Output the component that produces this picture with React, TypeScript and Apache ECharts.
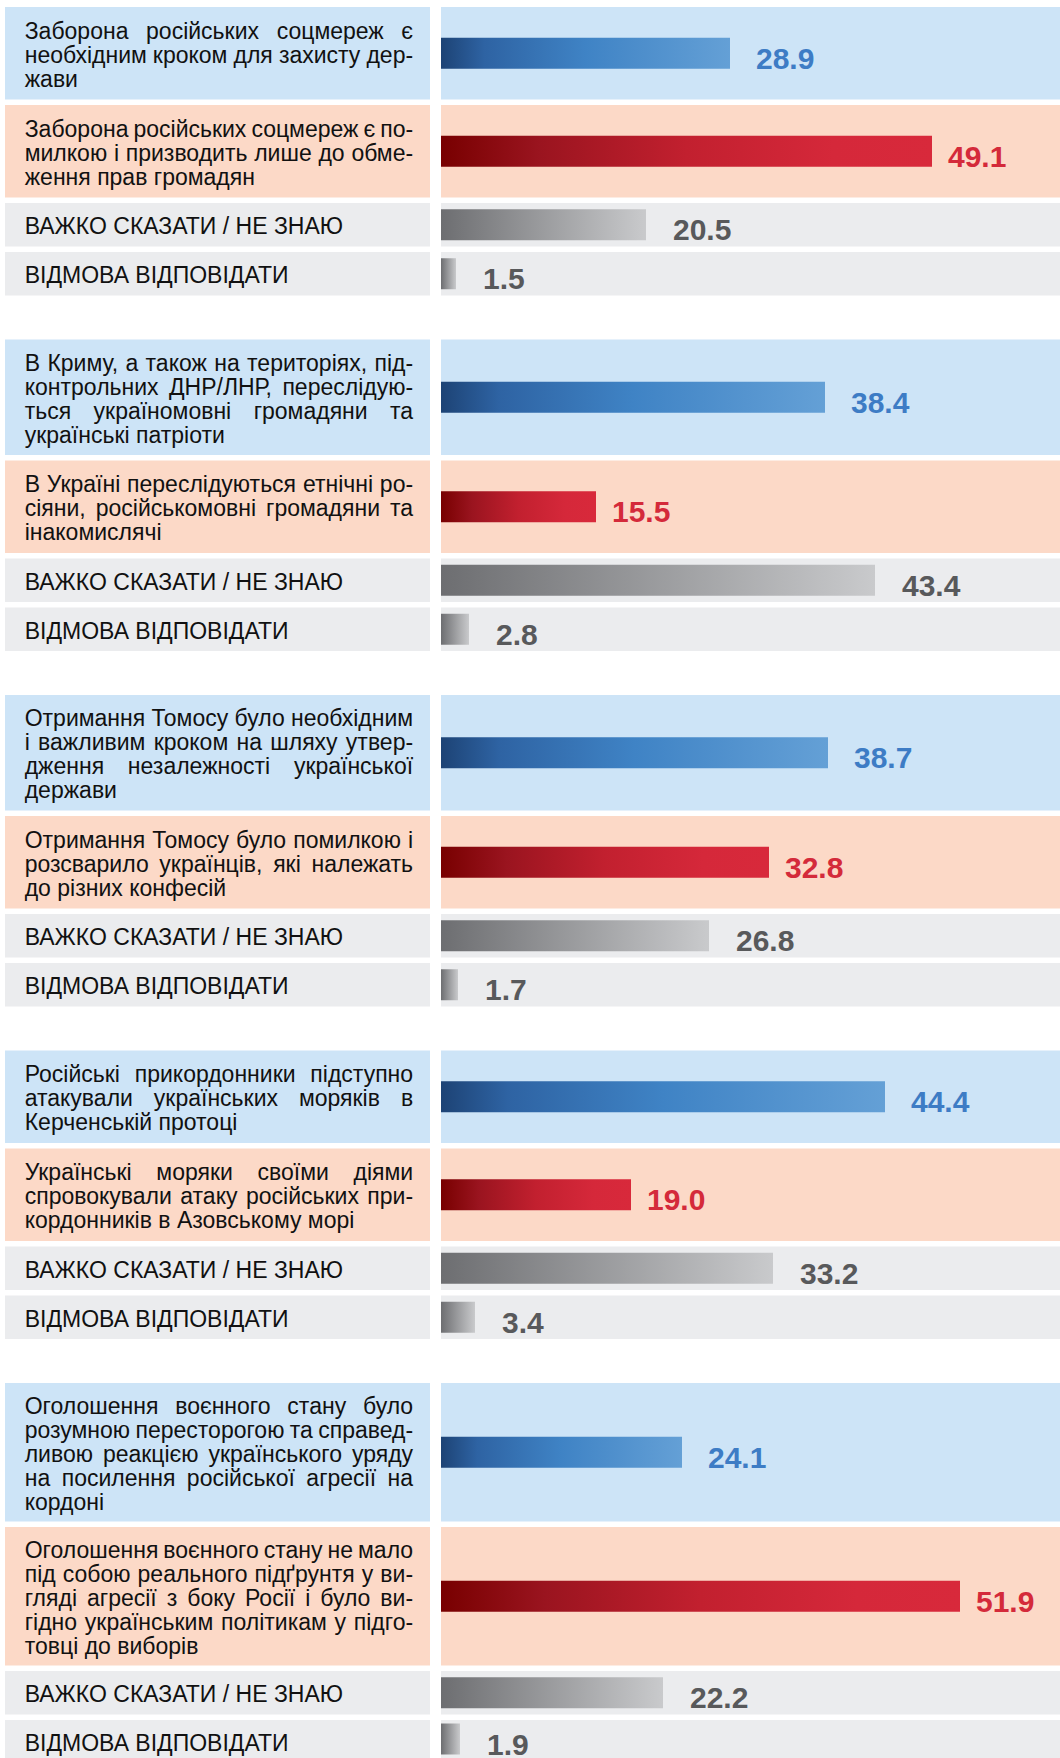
import React, { useEffect, useRef } from "react";
import * as echarts from "echarts";

// ---------- DATA ----------
const agreeLabels = [
  "Заборона російських соцмереж є\nнеобхідним кроком для захисту дер-\nжави",
  "В Криму, а також на територіях, під-\nконтрольних ДНР/ЛНР, переслідую-\nться україномовні громадяни та\nукраїнські патріоти",
  "Отримання Томосу було необхідним\nі важливим кроком на шляху утвер-\nдження незалежності української\nдержави",
  "Російські прикордонники підступно\nатакували українських моряків в\nКерченській протоці",
  "Оголошення воєнного стану було\nрозумною пересторогою та справед-\nливою реакцією українського уряду\nна посилення російської агресії на\nкордоні",
];
const disagreeLabels = [
  "Заборона російських соцмереж є по-\nмилкою і призводить лише до обме-\nження прав громадян",
  "В Україні переслідуються етнічні ро-\nсіяни, російськомовні громадяни та\nінакомислячі",
  "Отримання Томосу було помилкою і\nрозсварило українців, які належать\nдо різних конфесій",
  "Українські моряки своїми діями\nспровокували атаку російських при-\nкордонників в Азовському морі",
  "Оголошення воєнного стану не мало\nпід собою реального підґрунтя у ви-\nгляді агресії з боку Росії і було ви-\nгідно українським політикам у підго-\nтовці до виборів",
];
const dontKnowLabel = "ВАЖКО СКАЗАТИ / НЕ ЗНАЮ";
const refuseLabel = "ВІДМОВА ВІДПОВІДАТИ";

const agreeValues = [28.9, 38.4, 38.7, 44.4, 24.1];
const disagreeValues = [49.1, 15.5, 32.8, 19.0, 51.9];
const dontKnowValues = [20.5, 43.4, 26.8, 33.2, 22.2];
const refuseValues = [1.5, 2.8, 1.7, 3.4, 1.9];

// ---------- STYLE / LAYOUT ----------
const X_MAX = 61.9;
const TOP0 = 7;
const ROW_GAP = 5.5;
const PANEL_GAP = 44;
const GREY_H = 43.5;
const ROW_BASE = 23.5;
const ROW_STEP = 23;
const LABEL_X = 5;
const LABEL_W = 425;
const BAR_X = 441;
const BAR_W = 619;
const TEXT_X = 24.7;
const TEXT_W = 388.4;
const LINE_H = 24;
const FONT_SIZE = 23;
const FONT_FAMILY = "Liberation Sans, Arial, sans-serif";

const kinds: Record<string, any> = {
  agree: {
    bg: "#cde4f7",
    stops: [
      [0, "#1d4375"],
      [0.15, "#2e63a3"],
      [0.5, "#3f83c5"],
      [1, "#64a0d6"],
    ],
    labelColor: "#3d7cc5",
    distance: 26,
  },
  disagree: {
    bg: "#fcd9c7",
    stops: [
      [0, "#780000"],
      [0.2, "#9a141f"],
      [0.5, "#c2202f"],
      [0.8, "#d5283a"],
      [1, "#d8293b"],
    ],
    labelColor: "#d42a3a",
    distance: 16,
  },
  grey: {
    bg: "#ebecee",
    stops: [
      [0, "#6d6e71"],
      [1, "#c9cacc"],
    ],
    labelColor: "#58595b",
    distance: 27,
  },
};

function buildOption() {
  const canvas = document.createElement("canvas");
  const ctx = canvas.getContext("2d")!;
  ctx.font = `${FONT_SIZE}px "Liberation Sans"`;
  const measure = (s: string) => ctx.measureText(s).width;

  type Row = { kind: string; label: string; value: number };
  const rows: Row[] = [];
  for (let p = 0; p < agreeValues.length; p++) {
    rows.push({ kind: "agree", label: agreeLabels[p], value: agreeValues[p] });
    rows.push({ kind: "disagree", label: disagreeLabels[p], value: disagreeValues[p] });
    rows.push({ kind: "grey", label: dontKnowLabel, value: dontKnowValues[p] });
    rows.push({ kind: "grey", label: refuseLabel, value: refuseValues[p] });
  }

  const graphics: any[] = [];
  const grids: any[] = [];
  const xAxes: any[] = [];
  const yAxes: any[] = [];
  const series: any[] = [];

  let y = TOP0;
  rows.forEach((row, i) => {
    if (i > 0) y += i % 4 === 0 ? PANEL_GAP : ROW_GAP;
    const lines = row.label.split("\n");
    const h = row.kind === "grey" ? GREY_H : ROW_BASE + ROW_STEP * lines.length;
    const k = kinds[row.kind];

    graphics.push({
      type: "rect",
      z: 0,
      silent: true,
      shape: { x: LABEL_X, y, width: LABEL_W, height: h },
      style: { fill: k.bg },
    });
    graphics.push({
      type: "rect",
      z: 0,
      silent: true,
      shape: { x: BAR_X, y, width: BAR_W, height: h },
      style: { fill: k.bg },
    });

    const cy = y + h / 2 + 1.5;
    lines.forEach((line, li) => {
      const ly = cy + (li - (lines.length - 1) / 2) * LINE_H;
      const words = line.split(" ");
      const isLast = li === lines.length - 1;
      if (isLast || words.length < 2) {
        graphics.push({
          type: "text",
          z: 1,
          silent: true,
          x: TEXT_X,
          y: ly,
          style: {
            text: line,
            fontSize: FONT_SIZE,
            fontFamily: FONT_FAMILY,
            fill: "#111111",
            align: "left",
            verticalAlign: "middle",
          },
        });
      } else {
        const widths = words.map(measure);
        const total = widths.reduce((a, b) => a + b, 0);
        const gap = Math.max(4, (TEXT_W - total) / (words.length - 1));
        let x = TEXT_X;
        words.forEach((w, wi) => {
          graphics.push({
            type: "text",
            z: 1,
            silent: true,
            x,
            y: ly,
            style: {
              text: w,
              fontSize: FONT_SIZE,
              fontFamily: FONT_FAMILY,
              fill: "#111111",
              align: "left",
              verticalAlign: "middle",
            },
          });
          x += widths[wi] + gap;
        });
      }
    });

    grids.push({ left: BAR_X, top: y, width: BAR_W, height: h });
    xAxes.push({
      type: "value",
      gridIndex: i,
      min: 0,
      max: X_MAX,
      show: false,
      splitLine: { show: false },
    });
    yAxes.push({
      type: "category",
      gridIndex: i,
      data: [row.label],
      show: false,
    });
    series.push({
      type: "bar",
      xAxisIndex: i,
      yAxisIndex: i,
      data: [row.value],
      barWidth: 31,
      silent: true,
      z: 2,
      itemStyle: {
        color: {
          type: "linear",
          x: 0,
          y: 0,
          x2: 1,
          y2: 0,
          colorStops: k.stops.map((s: any) => ({ offset: s[0], color: s[1] })),
        },
      },
      label: {
        show: true,
        position: "right",
        distance: k.distance,
        offset: [0, 5],
        formatter: (pr: any) => Number(pr.value).toFixed(1),
        color: k.labelColor,
        fontSize: 30,
        fontWeight: "bold",
        fontFamily: FONT_FAMILY,
      },
    });

    y += h;
  });

  return {
    animation: false,
    backgroundColor: "#ffffff",
    grid: grids,
    xAxis: xAxes,
    yAxis: yAxes,
    series,
    graphic: { elements: graphics },
  };
}

export default function App() {
  const ref = useRef<HTMLDivElement>(null);
  useEffect(() => {
    if (!ref.current) return;
    const chart = echarts.init(ref.current, undefined, { renderer: "svg" });
    chart.setOption(buildOption() as any);
    return () => chart.dispose();
  }, []);
  return (
    <div
      ref={ref}
      style={{ position: "absolute", left: 0, top: 0, width: 1060, height: 1758 }}
    />
  );
}
